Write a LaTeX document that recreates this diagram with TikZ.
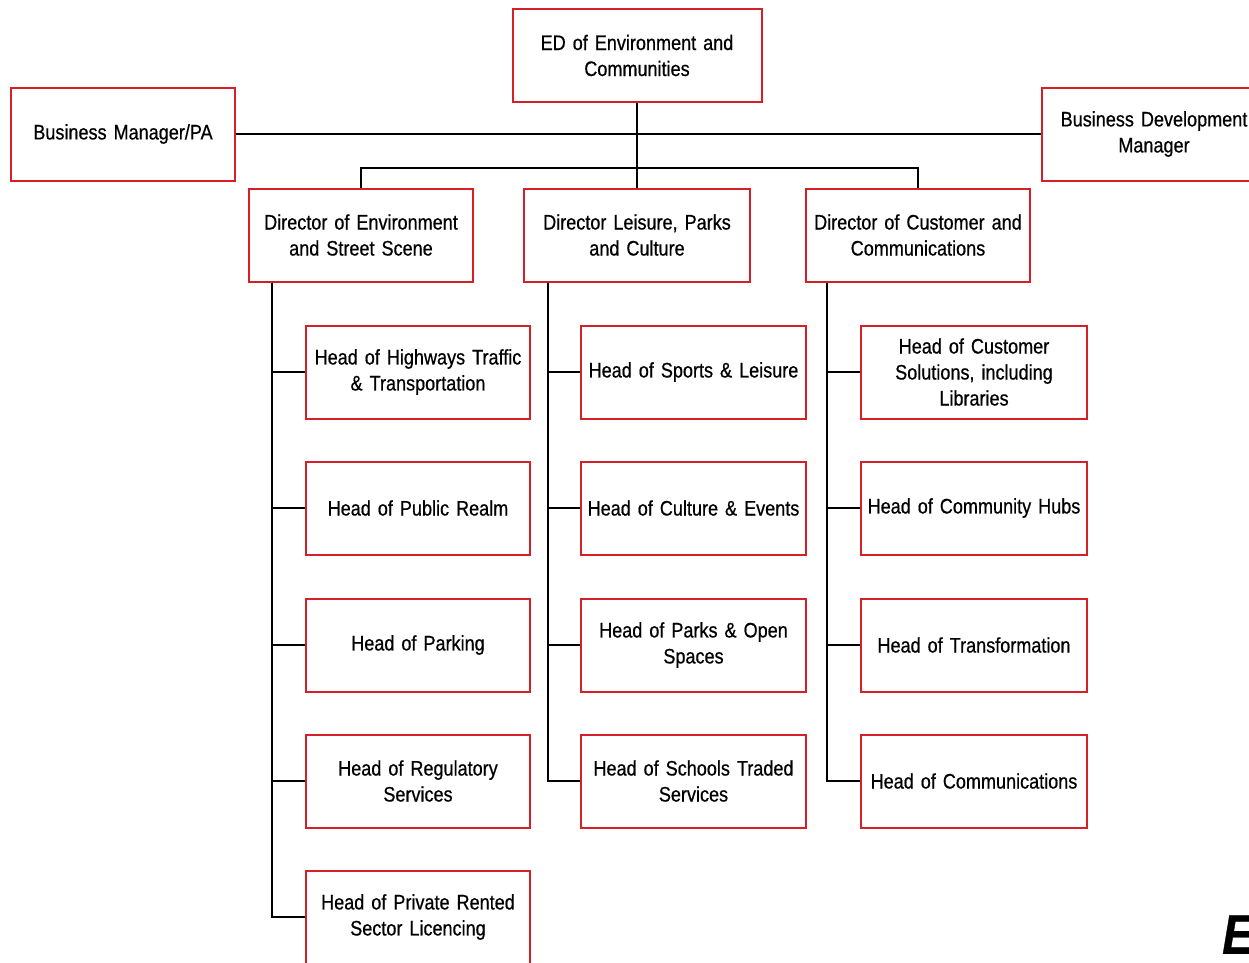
\documentclass[tikz,border=0pt]{standalone}
\usepackage{fontspec}
\setmainfont{Liberation Sans}[FakeStretch=0.86,WordSpace=0.75,FakeBold=0.6]
\definecolor{boxred}{RGB}{214,32,40}
\begin{document}
\begin{tikzpicture}[x=1pt,y=-1pt,
  box/.style={draw=boxred,line width=2pt,fill=white,minimum width=224pt,minimum height=93pt,
    align=center,text width=220pt,inner sep=0pt,font=\fontsize{21}{26}\selectfont},
  link/.style={line width=1.8pt,black}]
\useasboundingbox (0,0) rectangle (1249,962);
\clip (0,0) rectangle (1249,962);
\fill[white] (0,0) rectangle (1249,962);
% top
\node[box,minimum width=249pt] (ed) at (637,55.5) {ED of Environment and\\Communities};
\node[box] (bm) at (123,134) {Business Manager/PA};
\node[box] (bd) at (1154,134) {Business Development\\Manager};
% directors
\node[box] (d1) at (361,235) {Director of Environment\\and Street Scene};
\node[box,minimum width=226pt] (d2) at (637,235) {Director Leisure, Parks\\and Culture};
\node[box] (d3) at (918,235) {Director of Customer and\\Communications};
% column 1
\node[box] (a1) at (418,372) {Head of Highways Traffic\\\& Transportation};
\node[box] (a2) at (418,508) {Head of Public Realm};
\node[box] (a3) at (418,645) {Head of Parking};
\node[box] (a4) at (418,781) {Head of Regulatory\\Services};
\node[box] (a5) at (418,917) {Head of Private Rented\\Sector Licencing};
% column 2
\node[box,minimum width=225pt] (b1) at (693.5,372) {Head of Sports \& Leisure};
\node[box,minimum width=225pt] (b2) at (693.5,508) {Head of Culture \& Events};
\node[box,minimum width=225pt] (b3) at (693.5,645) {Head of Parks \& Open\\Spaces};
\node[box,minimum width=225pt] (b4) at (693.5,781) {Head of Schools Traded\\Services};
% column 3
\node[box,minimum width=226pt] (c1) at (974,372) {Head of Customer\\Solutions, including\\Libraries};
\node[box,minimum width=226pt] (c2) at (974,508) {Head of Community Hubs};
\node[box,minimum width=226pt] (c3) at (974,645) {Head of Transformation};
\node[box,minimum width=226pt] (c4) at (974,781) {Head of Communications};
% coordinates
\coordinate (j) at (637,168);
% connectors
\draw[link] (bm.east) -- (bd.west);
\draw[link] (ed.south) -- (j);
\draw[link] (d1.north) |- (j) -| (d3.north);
\draw[link] (j) -- (d2.north);
\foreach \n in {a1,a2,a3,a4,a5}{\draw[link] ([xshift=-89pt]d1.south) |- (\n.west);}
\foreach \n in {b1,b2,b3,b4}{\draw[link] ([xshift=-89pt]d2.south) |- (\n.west);}
\foreach \n in {c1,c2,c3,c4}{\draw[link] ([xshift=-91pt]d3.south) |- (\n.west);}
% corner mark
\node[anchor=south west,inner sep=0pt,font=\fontsize{56}{56}\selectfont\bfseries\itshape] (e) at (1222,954) {E};
\end{tikzpicture}
\end{document}
